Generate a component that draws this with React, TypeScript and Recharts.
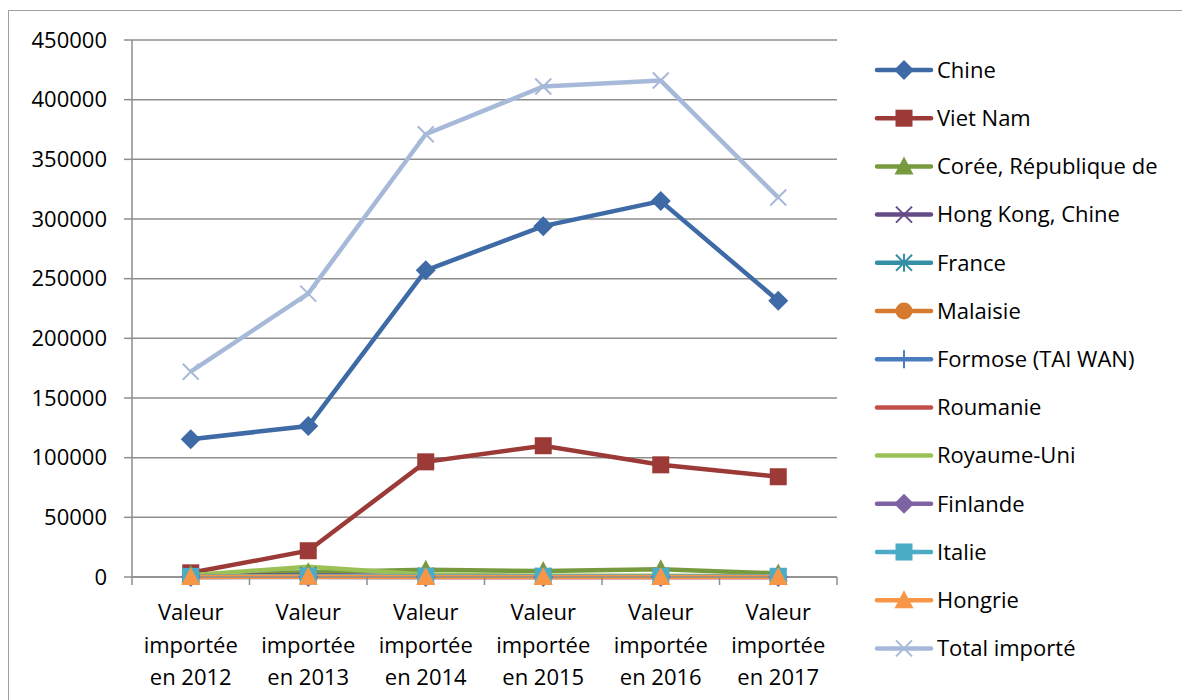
import React from "react";
import { LineChart, Line, XAxis, YAxis, CartesianGrid } from "recharts";

// Valeurs importées par pays d'origine, 2012 à 2017
const annees = [
  "Valeur importée en 2012",
  "Valeur importée en 2013",
  "Valeur importée en 2014",
  "Valeur importée en 2015",
  "Valeur importée en 2016",
  "Valeur importée en 2017",
];

const chine = [115500, 126500, 257000, 294000, 315000, 231500];
const vietNam = [3500, 22000, 96500, 110000, 94000, 84000];
const coree = [2000, 4000, 6000, 5000, 6500, 3000];
const hongKong = [1000, 1500, 800, 600, 700, 400];
const france = [500, 600, 400, 500, 300, 300];
const malaisie = [300, 400, 200, 300, 200, 200];
const formose = [600, 500, 400, 300, 400, 300];
const roumanie = [100, 200, 100, 100, 100, 100];
const royaumeUni = [1500, 8500, 2000, 1000, 1000, 500];
const finlande = [50, 100, 50, 50, 50, 50];
const italie = [500, 800, 600, 700, 500, 600];
const hongrie = [100, 200, 100, 100, 100, 100];
const totalImporte = [172000, 237500, 371000, 411000, 416000, 318000];

const yTicks = [0, 50000, 100000, 150000, 200000, 250000, 300000, 350000, 400000, 450000];

type Marker = "diamond" | "square" | "triangle" | "x" | "star" | "circle" | "plus" | "none";

const series: { key: string; name: string; values: number[]; color: string; marker: Marker }[] = [
  { key: "chine", name: "Chine", values: chine, color: "#3e6aa6", marker: "diamond" },
  { key: "vietNam", name: "Viet Nam", values: vietNam, color: "#9b3a37", marker: "square" },
  { key: "coree", name: "Corée, République de", values: coree, color: "#789a3f", marker: "triangle" },
  { key: "hongKong", name: "Hong Kong, Chine", values: hongKong, color: "#654b85", marker: "x" },
  { key: "france", name: "France", values: france, color: "#3590a6", marker: "star" },
  { key: "malaisie", name: "Malaisie", values: malaisie, color: "#d67a30", marker: "circle" },
  { key: "formose", name: "Formose (TAI WAN)", values: formose, color: "#4a7cc0", marker: "plus" },
  { key: "roumanie", name: "Roumanie", values: roumanie, color: "#c24e4b", marker: "none" },
  { key: "royaumeUni", name: "Royaume-Uni", values: royaumeUni, color: "#9bc055", marker: "none" },
  { key: "finlande", name: "Finlande", values: finlande, color: "#7e63a3", marker: "diamond" },
  { key: "italie", name: "Italie", values: italie, color: "#4bacc6", marker: "square" },
  { key: "hongrie", name: "Hongrie", values: hongrie, color: "#f79646", marker: "triangle" },
  { key: "total", name: "Total importé", values: totalImporte, color: "#a7b9d9", marker: "x" },
];

const data = annees.map((annee, i) => {
  const row: Record<string, string | number> = { annee };
  series.forEach((s) => {
    row[s.key] = s.values[i];
  });
  return row;
});

const FONT = "'Open Sans', sans-serif";
const GRID = "#8e8e8e";
const PLOT_W = 705;
const BAND = PLOT_W / annees.length;

function MarkerShape({ cx, cy, type, color }: { cx: number; cy: number; type: Marker; color: string }) {
  switch (type) {
    case "diamond":
      return <polygon points={`${cx},${cy - 10} ${cx + 10},${cy} ${cx},${cy + 10} ${cx - 10},${cy}`} fill={color} />;
    case "square":
      return <rect x={cx - 8.5} y={cy - 8.5} width={17} height={17} fill={color} />;
    case "triangle":
      return <polygon points={`${cx},${cy - 10} ${cx + 9.5},${cy + 8} ${cx - 9.5},${cy + 8}`} fill={color} />;
    case "x":
      return (
        <g stroke={color} strokeWidth={2}>
          <line x1={cx - 8} y1={cy - 8} x2={cx + 8} y2={cy + 8} />
          <line x1={cx - 8} y1={cy + 8} x2={cx + 8} y2={cy - 8} />
        </g>
      );
    case "star":
      return (
        <g stroke={color} strokeWidth={2}>
          <line x1={cx - 8} y1={cy - 8} x2={cx + 8} y2={cy + 8} />
          <line x1={cx - 8} y1={cy + 8} x2={cx + 8} y2={cy - 8} />
          <line x1={cx} y1={cy - 9} x2={cx} y2={cy + 9} />
        </g>
      );
    case "circle":
      return <circle cx={cx} cy={cy} r={8.5} fill={color} />;
    case "plus":
      return (
        <g stroke={color} strokeWidth={2}>
          <line x1={cx} y1={cy - 9} x2={cx} y2={cy + 9} />
          <line x1={cx - 9} y1={cy} x2={cx + 9} y2={cy} />
        </g>
      );
    default:
      return null;
  }
}

function XTick(props: any) {
  const { x, y, payload, index } = props;
  const words = String(payload.value).split(" ");
  const lines = [words[0], words[1], words.slice(2).join(" ")];
  const left = x - BAND / 2;
  return (
    <g>
      <line x1={left} y1={y} x2={left} y2={y + 8} stroke={GRID} strokeWidth={1.5} />
      {index === annees.length - 1 && (
        <line x1={x + BAND / 2} y1={y} x2={x + BAND / 2} y2={y + 8} stroke={GRID} strokeWidth={1.5} />
      )}
      <text x={x} y={y} textAnchor="middle" fontFamily={FONT} fontSize={22} fill="#000">
        {lines.map((l, i) => (
          <tspan key={i} x={x} dy={i === 0 ? 43 : 32.5}>
            {l}
          </tspan>
        ))}
      </text>
    </g>
  );
}

function Legende() {
  return (
    <svg width={310} height={620} style={{ position: "absolute", left: 870, top: 46 }}>
      {series.map((s, i) => {
        const cy = 24 + i * 48.2;
        return (
          <g key={s.key}>
            <line x1={7} y1={cy} x2={61} y2={cy} stroke={s.color} strokeWidth={4.5} strokeLinecap="round" />
            <MarkerShape cx={34} cy={cy} type={s.marker} color={s.color} />
            <text x={67} y={cy} dy="0.35em" fontFamily={FONT} fontSize={22} fill="#000">
              {s.name}
            </text>
          </g>
        );
      })}
    </svg>
  );
}

export default function App() {
  return (
    <div style={{ position: "fixed", left: 0, top: 0, width: 1182, height: 700, overflow: "hidden", background: "#fff" }}>
      <div
        style={{
          position: "absolute",
          left: 8,
          top: 10,
          width: 1200,
          height: 720,
          border: "1.5px solid #a0a0a0",
        }}
      />
      <LineChart
        width={1182}
        height={700}
        data={data}
        margin={{ top: 40, right: 345, bottom: 13, left: 0 }}
        style={{ position: "absolute", left: 0, top: 0 }}
      >
        <CartesianGrid vertical={false} stroke={GRID} strokeWidth={1.5} />
        <XAxis
          dataKey="annee"
          scale="band"
          height={110}
          interval={0}
          tickSize={0}
          tickMargin={0}
          tickLine={false}
          axisLine={{ stroke: GRID, strokeWidth: 1.5 }}
          tick={<XTick />}
        />
        <YAxis
          width={132}
          domain={[0, 450000]}
          ticks={yTicks}
          interval={0}
          tickSize={8}
          tickMargin={17}
          axisLine={{ stroke: GRID, strokeWidth: 1.5 }}
          tickLine={{ stroke: GRID, strokeWidth: 1.5 }}
          tick={{ fontFamily: FONT, fontSize: 22, fill: "#000" }}
        />
        {series.map((s) => (
          <Line
            key={s.key}
            dataKey={s.key}
            name={s.name}
            stroke={s.color}
            strokeWidth={4.5}
            isAnimationActive={false}
            activeDot={false}
            dot={(p: any) => (
              <MarkerShape key={`${s.key}-${p.index}`} cx={p.cx} cy={p.cy} type={s.marker} color={s.color} />
            )}
          />
        ))}
      </LineChart>
      <Legende />
    </div>
  );
}
